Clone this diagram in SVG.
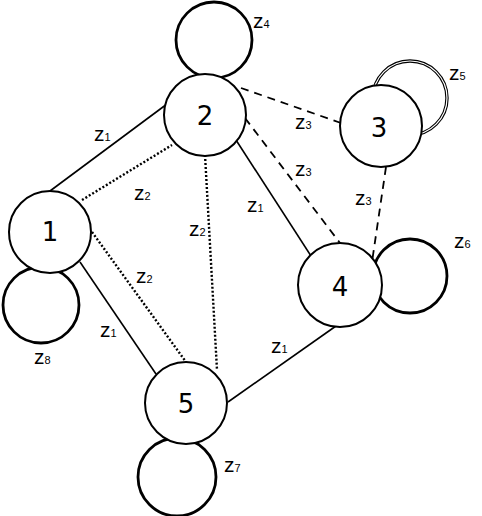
<svg xmlns="http://www.w3.org/2000/svg" width="482" height="516" viewBox="0 0 482 516">
<style>
.node{fill:#fff;stroke:#000;stroke-width:2}
.loop{fill:none;stroke:#000;stroke-width:2.8}
.solid{stroke:#000;stroke-width:1.6;fill:none}
.dot{stroke:#000;stroke-width:2.4;fill:none;stroke-dasharray:2 2}
.dash{stroke:#000;stroke-width:1.8;fill:none;stroke-dasharray:8 6}
.nl{font-family:"DejaVu Sans","Liberation Sans",sans-serif;font-size:26px;text-anchor:middle}
.el{font-family:"Liberation Sans",sans-serif;font-size:21px}
.el tspan{font-size:11px}
</style>
<rect width="482" height="516" fill="#fff"/>
<g id="loops">
<circle class="loop" cx="214" cy="40" r="38"/>
<circle cx="410" cy="98" r="37" fill="none" stroke="#000" stroke-width="3.4"/>
<circle cx="410" cy="98" r="37" fill="none" stroke="#fff" stroke-width="1.2"/>
<circle class="loop" cx="410" cy="276" r="37"/>
<circle class="loop" cx="177" cy="477" r="39"/>
<circle class="loop" cx="41" cy="305" r="38"/>
</g>
<g id="connectors">
<line class="solid" x1="50" y1="191" x2="167" y2="104"/>
<line class="dot" x1="82" y1="200" x2="172" y2="145"/>
<line class="dot" x1="205" y1="155" x2="217" y2="370"/>
<line class="dot" x1="92" y1="232" x2="186" y2="362"/>
<line class="solid" x1="80" y1="262" x2="156" y2="374"/>
<line class="solid" x1="236" y1="140" x2="311" y2="256"/>
<line class="dash" x1="245" y1="118" x2="340" y2="243"/>
<line class="dash" x1="241" y1="88" x2="341" y2="123"/>
<line class="dash" x1="386" y1="167" x2="372" y2="262"/>
<line class="solid" x1="336" y1="326" x2="228" y2="402"/>
</g>
<g id="edge-labels">
<text class="el" x="94" y="141">z<tspan>1</tspan></text>
<text class="el" x="134" y="200">z<tspan>2</tspan></text>
<text class="el" x="189" y="236">z<tspan>2</tspan></text>
<text class="el" x="136" y="283">z<tspan>2</tspan></text>
<text class="el" x="100" y="337">z<tspan>1</tspan></text>
<text class="el" x="247" y="212">z<tspan>1</tspan></text>
<text class="el" x="271" y="353">z<tspan>1</tspan></text>
<text class="el" x="295" y="129">z<tspan>3</tspan></text>
<text class="el" x="295" y="176">z<tspan>3</tspan></text>
<text class="el" x="355" y="205">z<tspan>3</tspan></text>
<text class="el" x="253" y="28">z<tspan>4</tspan></text>
<text class="el" x="449" y="80">z<tspan>5</tspan></text>
<text class="el" x="454" y="248">z<tspan>6</tspan></text>
<text class="el" x="224" y="472">z<tspan>7</tspan></text>
<text class="el" x="34" y="364">z<tspan>8</tspan></text>
</g>
<g id="node1"><circle class="node" cx="50" cy="232" r="41"/><text class="nl" x="50" y="241">1</text></g>
<g id="node2"><circle class="node" cx="205" cy="115" r="41"/><text class="nl" x="205" y="125">2</text></g>
<g id="node3"><circle class="node" cx="381" cy="126" r="41"/><text class="nl" x="379" y="137">3</text></g>
<g id="node4"><circle class="node" cx="340" cy="285" r="42"/><text class="nl" x="340" y="296">4</text></g>
<g id="node5"><circle class="node" cx="186" cy="403" r="41"/><text class="nl" x="186" y="413">5</text></g>
</svg>
